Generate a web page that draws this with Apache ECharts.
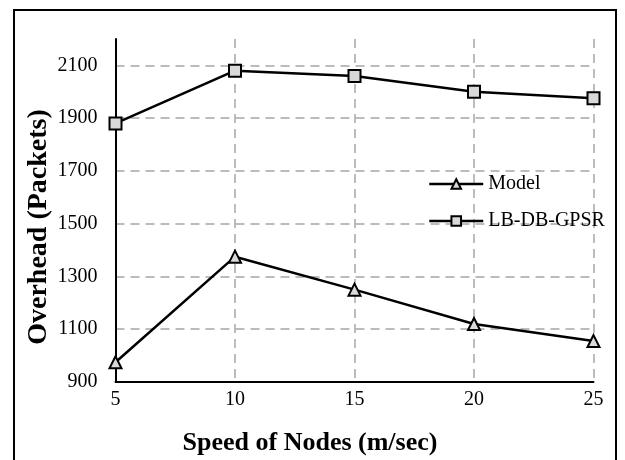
<!DOCTYPE html>
<html>
  <head>
    <meta charset="utf-8" />
    <script src="https://cdn.jsdelivr.net/npm/echarts@6.0.0/dist/echarts.min.js"></script>
    <style>
      html, body { margin: 0; padding: 0; background: #fff; }
    </style>
  </head>
  <body>
    <div id="main" style="width: 625px;height:460px;"></div>
    <script type="text/javascript">
      // data
      var speeds = [5, 10, 15, 20, 25];
      var modelValues = [975, 1375, 1250, 1120, 1055];
      var gpsrValues = [1880, 2080, 2060, 2000, 1975];
      var yLabels = [900, 1100, 1300, 1500, 1700, 1900, 2100];

      var serif = "'Liberation Serif', 'Times New Roman', serif";
      var myChart = echarts.init(document.getElementById('main'));

      function pairs(xs, ys) {
        return xs.map(function (x, i) { return [x, ys[i]]; });
      }

      option = {
        backgroundColor: '#fff',
        animation: false,
        grid: { left: 115.5, right: 31.5, top: 39, bottom: 78, containLabel: false },
        legend: {
          orient: 'vertical',
          left: 428,
          top: 174,
          padding: 0,
          itemWidth: 54,
          itemHeight: 12,
          itemGap: 17,
          lineStyle: { color: '#000', width: 2.5 },
          textStyle: { fontFamily: serif, fontSize: 20, color: '#000' },
          data: ['Model', 'LB-DB-GPSR']
        },
        xAxis: {
          type: 'value',
          min: 5,
          max: 25,
          interval: 5,
          axisLine: { show: true, lineStyle: { color: '#000', width: 2 } },
          axisTick: { show: false },
          axisLabel: { color: '#000', fontFamily: serif, fontSize: 20, margin: 8 },
          splitLine: {
            show: true,
            lineStyle: { color: '#a6a6a6', width: 1.5, type: [9, 6] }
          }
        },
        yAxis: {
          type: 'value',
          min: 900,
          max: 2200,
          interval: 100,
          axisLine: { show: true, lineStyle: { color: '#000', width: 2 } },
          axisTick: { show: false },
          axisLabel: {
            color: '#000', fontFamily: serif, fontSize: 20, margin: 18,
            formatter: function (v) { return yLabels.indexOf(v) >= 0 ? String(v) : ''; }
          },
          splitLine: {
            show: true,
            showMinLine: true,
            showMaxLine: true,
            // only every other split line (the labelled values) is visible
            lineStyle: { color: ['#a6a6a6', 'rgba(0,0,0,0)'], width: 1.5, type: [9, 6] }
          }
        },
        series: [
          {
            name: 'Model',
            type: 'line',
            data: pairs(speeds, modelValues),
            symbol: 'triangle',
            symbolSize: 12,
            lineStyle: { color: '#000', width: 2.5 },
            itemStyle: { color: '#d9d9d9', borderColor: '#000', borderWidth: 2 },
            z: 3
          },
          {
            name: 'LB-DB-GPSR',
            type: 'line',
            data: pairs(speeds, gpsrValues),
            symbol: 'rect',
            symbolSize: 12,
            lineStyle: { color: '#000', width: 2.5 },
            itemStyle: { color: '#d9d9d9', borderColor: '#000', borderWidth: 2 },
            z: 3
          }
        ],
        graphic: [
          {
            type: 'rect',
            shape: { x: 14, y: 10, width: 602, height: 470 },
            style: { fill: null, stroke: '#000', lineWidth: 2 },
            silent: true
          },
          {
            type: 'text',
            x: 39,
            y: 227,
            rotation: Math.PI / 2,
            style: {
              text: 'Overhead (Packets)',
              fontFamily: serif, fontSize: 28, fontWeight: 'bold', fill: '#000',
              textAlign: 'center', textVerticalAlign: 'middle'
            }
          },
          {
            type: 'text',
            x: 310,
            y: 443,
            style: {
              text: 'Speed of Nodes (m/sec)',
              fontFamily: serif, fontSize: 26, fontWeight: 'bold', fill: '#000',
              textAlign: 'center', textVerticalAlign: 'middle'
            }
          }
        ]
      };

      myChart.setOption(option);
    </script>
  </body>
</html>
